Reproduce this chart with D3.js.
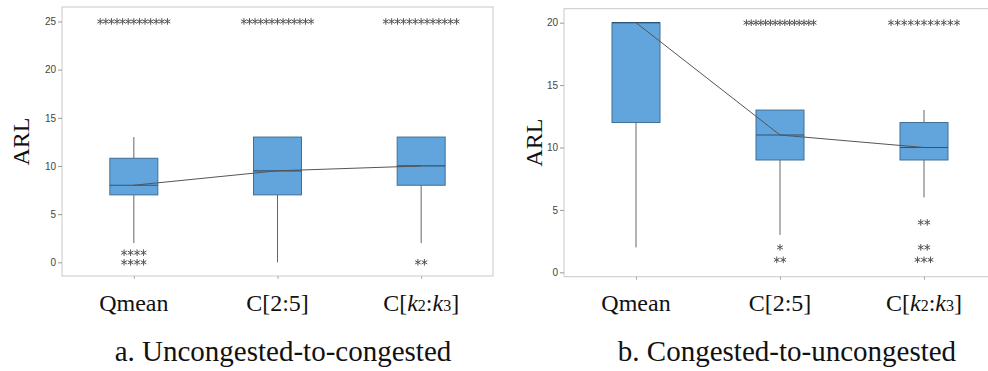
<!DOCTYPE html>
<html>
<head>
<meta charset="utf-8">
<script src="https://cdn.jsdelivr.net/npm/d3@7"></script>
<style>
  body { margin: 0; background: #fff; }
  svg { display: block; }
</style>
</head>
<body>
<svg id="chart" width="988" height="371"></svg>
<script>
const categories = ['Qmean', 'C[2:5]', 'C[k2:k3]'];

// panel a: uncongested-to-congested
const aQ1 = [7, 7, 8];
const aMedian = [8, 9.5, 10];
const aQ3 = [10.8, 13, 13];
const aWhiskerLow = [2, 0, 2];
const aWhiskerHigh = [13, 13, 13];
// [value, count] pairs per category
const aOutliers = [
  [[25, 13], [1, 4], [0, 4]],
  [[25, 13]],
  [[25, 13], [0, 2]]
];
const aTicks = [0, 5, 10, 15, 20, 25];

// panel b: congested-to-uncongested
const bQ1 = [12, 9, 9];
const bMedian = [20, 11, 10];
const bQ3 = [20, 13, 12];
const bWhiskerLow = [2, 3, 6];
const bWhiskerHigh = [20, 13, 13];
const bOutliers = [
  [],
  [[20, 15], [2, 1], [1, 2]],
  [[20, 11], [4, 2], [2, 2], [1, 3]]
];
const bTicks = [0, 5, 10, 15, 20];

const svg = d3.select('#chart');

function drawPanel(opts) {
  const g = svg.append('g');

  const x = d3.scalePoint()
    .domain(categories)
    .range([opts.left, opts.left + opts.width])
    .padding(0.5);

  const y = d3.scaleLinear()
    .domain(opts.yDomain)
    .range([opts.top + opts.height, opts.top]);

  const boxW = 48;

  // frame
  g.append('rect')
    .attr('x', opts.left)
    .attr('y', opts.top)
    .attr('width', opts.width)
    .attr('height', opts.height)
    .attr('fill', 'none')
    .attr('stroke', '#c9c9c9')
    .attr('stroke-width', 1);

  // y axis
  const yAxis = d3.axisLeft(y).tickValues(opts.ticks).tickSize(4).tickPadding(2);
  const ya = g.append('g')
    .attr('transform', `translate(${opts.left},0)`)
    .call(yAxis);
  ya.select('.domain').remove();
  ya.selectAll('line').attr('stroke', '#999');
  ya.selectAll('text')
    .attr('fill', '#444')
    .style('font-family', 'Liberation Sans, Arial, sans-serif')
    .style('font-size', '10px');

  // x axis ticks
  const xAxis = d3.axisBottom(x).tickSize(3).tickFormat('');
  const xa = g.append('g')
    .attr('transform', `translate(0,${opts.top + opts.height})`)
    .call(xAxis);
  xa.select('.domain').remove();
  xa.selectAll('line').attr('stroke', '#aaa');

  // x labels (k subscripts italic)
  categories.forEach((c, i) => {
    const t = g.append('text')
      .attr('x', x(c))
      .attr('y', 311)
      .attr('text-anchor', 'middle')
      .style('font-family', 'Liberation Serif, Times New Roman, serif')
      .style('font-size', '24px')
      .attr('fill', '#111');
    const m = c.match(/^C\[k(\d):k(\d)\]$/);
    if (m) {
      t.append('tspan').text('C[');
      t.append('tspan').style('font-style', 'italic').text('k');
      t.append('tspan').style('font-size', '16px').text(m[1]);
      t.append('tspan').text(':');
      t.append('tspan').style('font-style', 'italic').text('k');
      t.append('tspan').style('font-size', '16px').text(m[2]);
      t.append('tspan').text(']');
    } else {
      t.text(c);
    }
  });

  // whiskers
  categories.forEach((c, i) => {
    g.append('line')
      .attr('x1', x(c)).attr('x2', x(c))
      .attr('y1', y(opts.whiskerLow[i])).attr('y2', y(opts.q1[i]))
      .attr('stroke', '#666').attr('stroke-width', 1);
    g.append('line')
      .attr('x1', x(c)).attr('x2', x(c))
      .attr('y1', y(opts.q3[i])).attr('y2', y(opts.whiskerHigh[i]))
      .attr('stroke', '#666').attr('stroke-width', 1);
  });

  // boxes
  categories.forEach((c, i) => {
    g.append('rect')
      .attr('x', x(c) - boxW / 2)
      .attr('y', y(opts.q3[i]))
      .attr('width', boxW)
      .attr('height', y(opts.q1[i]) - y(opts.q3[i]))
      .attr('fill', '#62a5dc')
      .attr('stroke', '#3f6f95')
      .attr('stroke-width', 1);
    g.append('line')
      .attr('x1', x(c) - boxW / 2).attr('x2', x(c) + boxW / 2)
      .attr('y1', y(opts.median[i])).attr('y2', y(opts.median[i]))
      .attr('stroke', '#2f5575').attr('stroke-width', 1.2);
  });

  // median connect line
  const line = d3.line()
    .x((d, i) => x(categories[i]))
    .y(d => y(d));
  g.append('path')
    .datum(opts.median)
    .attr('fill', 'none')
    .attr('stroke', '#555')
    .attr('stroke-width', 1)
    .attr('d', line);

  // outliers as stacked asterisks
  const star = d3.symbol(d3.symbolAsterisk, 30);
  categories.forEach((c, i) => {
    opts.outliers[i].forEach(([v, n]) => {
      const step = n > 5 ? opts.topStep[i] : 6.5;
      for (let k = 0; k < n; k++) {
        const dx = (k - (n - 1) / 2) * step;
        g.append('path')
          .attr('d', star)
          .attr('transform', `translate(${x(c) + dx},${y(v)})`)
          .attr('fill', 'none')
          .attr('stroke', '#555')
          .attr('stroke-width', 1);
      }
    });
  });

  // y label
  g.append('text')
    .attr('transform', `translate(${opts.labelX},${opts.top + opts.height / 2}) rotate(-90)`)
    .attr('text-anchor', 'middle')
    .style('font-family', 'Liberation Serif, Times New Roman, serif')
    .style('font-size', '24px')
    .attr('fill', '#111')
    .text('ARL');

  // caption
  g.append('text')
    .attr('x', opts.captionX)
    .attr('y', 361)
    .attr('text-anchor', 'middle')
    .style('font-family', 'Liberation Serif, Times New Roman, serif')
    .style('font-size', '29px')
    .attr('fill', '#111')
    .text(opts.caption);
}

drawPanel({
  left: 62, top: 7, width: 431, height: 269,
  yDomain: [-1.42, 26.5], ticks: aTicks,
  q1: aQ1, median: aMedian, q3: aQ3,
  whiskerLow: aWhiskerLow, whiskerHigh: aWhiskerHigh,
  outliers: aOutliers, topStep: [5.6, 5.6, 5.9],
  labelX: 29, captionX: 283,
  caption: 'a. Uncongested-to-congested'
});

drawPanel({
  left: 564, top: 8.7, width: 432, height: 268,
  yDomain: [-0.35, 21.12], ticks: bTicks,
  q1: bQ1, median: bMedian, q3: bQ3,
  whiskerLow: bWhiskerLow, whiskerHigh: bWhiskerHigh,
  outliers: bOutliers, topStep: [5, 4.8, 6.6],
  labelX: 542, captionX: 787,
  caption: 'b. Congested-to-uncongested'
});
</script>
</body>
</html>
